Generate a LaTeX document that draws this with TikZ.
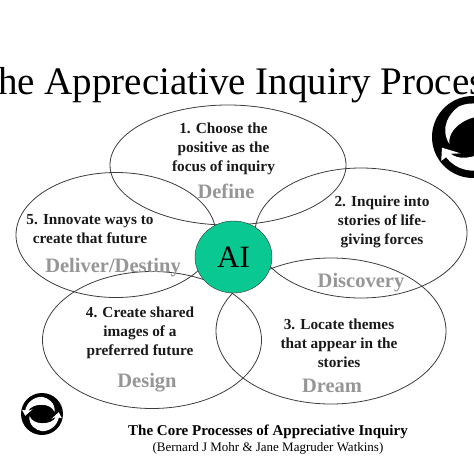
\documentclass[tikz,border=0pt]{standalone}
\usepackage{fontspec}
\setmainfont{Liberation Serif}
\usetikzlibrary{positioning,shapes.geometric}
\definecolor{LabelGrey}{RGB}{150,150,150}
\definecolor{PetalLine}{RGB}{60,60,60}
\definecolor{HubGreen}{RGB}{10,200,145}
\tikzset{
petal/.style={draw=PetalLine,line width=.8pt,ellipse,inner sep=0pt},
step text/.style={font=\fontsize{15.3}{19}\selectfont\bfseries,align=center,text=black!90},
phase/.style={font=\fontsize{20.5}{22}\selectfont\bfseries,text=LabelGrey},
swirl/.pic={
\fill[black] (0,0) circle (1);
\foreach \turn in {0,180}{
\fill[white,rotate=\turn] (172:.6) .. controls (140:.85) and (110:.82) .. (90:.82)
 arc[start angle=90,end angle=12,radius=.82]--(12:.97)--(-6:.8)--(28:.5)--(12:.68)
 .. controls (50:.72) and (130:.72) .. (172:.6)--cycle;
}
}
}
\begin{document}
\begin{tikzpicture}[x=1pt,y=-1pt]
\clip (0,0) rectangle (474,474);
\node (title) at (237,85){\fontsize{39}{41}\selectfont The Appreciative Inquiry Process};
\pic[scale=41,rotate=25,xscale=-1] (logoright) at (473,137) {swirl};
% petals
\node[petal,minimum width=236pt,minimum height=120pt] (define) at (228,165){};
\node[petal,minimum width=212pt,minimum height=130pt] (discovery) at (361,233){};
\node[petal,minimum width=230pt,minimum height=146pt] (dream) at (331,331){};
\node[petal,minimum width=219pt,minimum height=137pt] (design) at (152,340){};
\node[petal,minimum width=200pt,minimum height=125pt] (deliver) at (116,235){};
\node[draw=black!80,fill=HubGreen,ellipse,minimum width=77pt,minimum height=72pt,inner sep=0pt,font=\fontsize{31}{32}\selectfont] (hub) at (233.5,257){AI};
% texts
\node[step text] (stepone) at (223.5,149){1. Choose the\\positive as the\\focus of inquiry};
\node[phase] (defname) at (226,191){Define};
\node[step text] (steptwo) at (382,222){2. Inquire into\\stories of life-\\giving forces};
\node[phase] (disname) at (361,283){Discovery};
\node[step text] (stepthree) at (339,343){3. Locate themes\\that appear in the\\stories};
\node[phase] (dreamname) at (332,386){Dream};
\node[step text] (stepfour) at (140,333){4. Create shared\\images of a\\preferred future};
\node[phase] (desname) at (147,383){Design};
\node[step text] (stepfive) at (90,229){5. Innovate ways to\\create that future};
\node[phase] (delname) at (113,268){Deliver/Destiny};
\pic[scale=21] (logoleft) at (42,414) {swirl};
\node[font=\fontsize{15}{16}\selectfont\bfseries] (caption) at (268,432){The Core Processes of Appreciative Inquiry};
\node[font=\fontsize{13}{14}\selectfont] (credit) at (268,448){(Bernard J Mohr \& Jane Magruder Watkins)};
\end{tikzpicture}
\end{document}
